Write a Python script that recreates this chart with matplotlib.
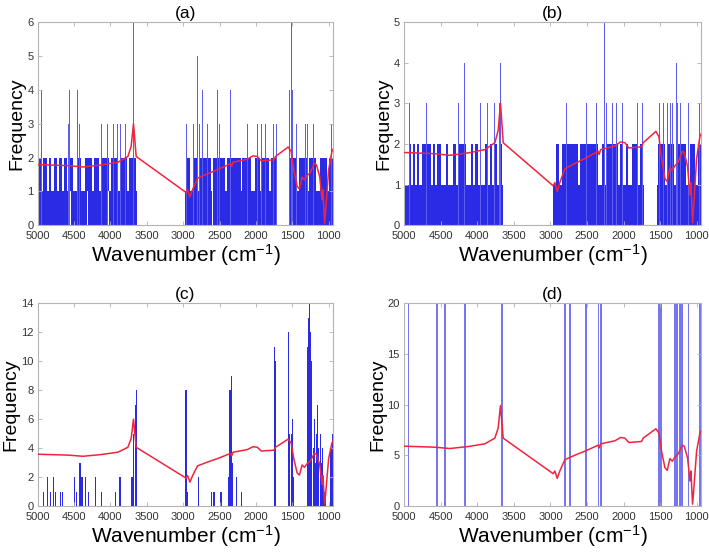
import matplotlib
matplotlib.use("Agg")
import matplotlib.pyplot as plt

plt.rcParams['font.family'] = ['Liberation Sans', 'DejaVu Sans']
plt.rcParams['mathtext.default'] = 'regular'

# scaled spectrum (red curve), base scale as in panel (a)
spec_w = [5000, 4581, 4376, 4125, 3897, 3760, 3715, 3683, 3665, 3646,
          2963, 2940, 2908, 2872, 2803, 2667, 2530, 2348, 2334, 2316,
          2120, 2042, 1983, 1928, 1755, 1733, 1559, 1518, 1482, 1436,
          1404, 1368, 1336, 1300, 1254, 1199, 1172, 1126, 1094, 1081,
          1058, 1040, 1003, 958, 940]
spec_y = [1.79, 1.76, 1.72, 1.78, 1.86, 2.03, 2.33, 3.0, 2.53, 2.03,
          0.97, 1.05, 0.83, 1.05, 1.39, 1.52, 1.64, 1.82, 1.74, 1.86,
          1.95, 2.05, 2.03, 1.90, 1.93, 2.03, 2.31, 2.18, 1.64, 1.15,
          1.07, 1.42, 1.34, 1.46, 1.56, 1.82, 1.79, 1.44, 0.75, 1.05,
          0.06, 0.55, 1.64, 2.18, 2.25]
spec_scale = {'a': 1.0, 'b': 1.0, 'c': 2.0, 'd': 3.3}

# (a) histogram
lvl1_a = [(5000, 4890), (4883, 4766), (4760, 4552), (4546, 4320), (4313, 4028),
          (4022, 3773), (3767, 3628), (2978, 2600), (2594, 1718), (1546, 1080),
          (1074, 942)]
lvl2_a = [(5000, 4954), (4932, 4877), (4845, 4809), (4772, 4736), (4699, 4663),
          (4635, 4590), (4567, 4517), (4462, 4398), (4344, 4253), (4225, 4152),
          (4125, 4025), (3988, 3906), (3870, 3770), (3738, 3692), (3678, 3642),
          (2963, 2904), (2872, 2804), (2781, 2621), (2585, 2430), (2393, 2211),
          (2189, 2075), (2020, 1947), (1915, 1824), (1801, 1719), (1546, 1437),
          (1414, 1300), (1277, 1172), (1118, 1026), (1004, 942)]
spike_a_w = [4982, 4945, 4581, 4558, 4453, 4421, 4170, 4125, 4043, 3956, 3906,
             3861, 3797, 3687, 3678, 2949, 2858, 2803, 2776, 2740, 2667, 2530,
             2507, 2348, 2302, 2120, 1983, 1928, 1865, 1755, 1719, 1536, 1518,
             1500, 1446, 1322, 1290, 1245, 1208, 958]
spike_a_h = [3, 4, 3, 4, 4, 3, 4, 3, 3, 3, 3,
             3, 3, 3, 6, 3, 3, 5, 3, 4, 3, 4,
             3, 4, 3, 3, 3, 3, 3, 3, 3, 4, 6,
             4, 3, 3, 3, 3, 3, 3]

# (b) histogram
lvl1_b = [(5000, 4700), (4694, 4420), (4414, 3645), (2972, 2410), (2404, 1728),
          (1550, 1400), (1394, 935)]
lvl2_b = [(5000, 4982), (4936, 4909), (4872, 4845), (4818, 4790), (4754, 4635),
          (4603, 4581), (4544, 4490), (4421, 4398), (4330, 4285), (4262, 4148),
          (4089, 4057), (4025, 3988), (3966, 3943), (3888, 3861), (3829, 3797),
          (3761, 3724), (3706, 3660), (2918, 2886), (2849, 2621), (2599, 2348),
          (2293, 2257), (2234, 2075), (2052, 2006), (1974, 1938), (1892, 1801),
          (1778, 1733), (1537, 1437), (1391, 1309), (1277, 1154), (1095, 1026),
          (981, 935)]
spike_b_w = [4927, 4699, 4257, 4179, 3961, 3861, 3769, 3701, 3678, 2776, 2503,
             2366, 2266, 2229, 2147, 2092, 2010, 1810, 1737, 1509, 1454, 1400,
             1363, 1327, 1281, 1263, 1227, 1112, 961]
spike_b_h = [3, 3, 3, 4, 3, 3, 3, 3, 4, 3, 3,
             3, 5, 3, 3, 3, 3, 3, 3, 3, 3, 3,
             3, 3, 4, 3, 3, 3, 3]

# (c) histogram
bars_c_w = [5000, 4991, 4982, 4954, 4922, 4886, 4868, 4822, 4777, 4754, 4685,
            4658, 4489, 4466, 4444, 4430, 4421, 4407, 4394, 4385, 4339, 4298,
            4202, 4125, 4102, 4020, 3952, 3929, 3874, 3861, 3715, 3701, 3687,
            3678, 3660, 3646, 3633, 2972, 2958, 2940, 2790, 2607, 2589, 2575,
            2493, 2471, 2380, 2366, 2352, 2339, 2325, 2266, 2247, 2234, 2220,
            2202, 2097, 1755, 1742, 1728, 1550, 1536, 1513, 1496, 1482, 1423,
            1409, 1395, 1368, 1300, 1290, 1281, 1268, 1254, 1236, 1218, 1208,
            1199, 1181, 1172, 1154, 1145, 1135, 1117, 1104, 1085, 1072, 1063,
            1049, 1026, 1012, 999, 985, 976, 967, 958, 949]
bars_c_h = [4, 3, 2, 1, 1, 3, 2, 1, 2, 1, 1,
            1, 2, 1, 1, 3, 3, 3, 2, 2, 2, 1,
            2, 1, 1, 1, 2, 1, 2, 2, 2, 2, 3,
            5, 7, 8, 4, 8, 8, 1, 2, 1, 1, 1,
            1, 1, 2, 8, 8, 9, 3, 2, 2, 3, 3,
            1, 1, 7, 11, 10, 12, 5, 5, 6, 2, 10,
            8, 2, 2, 11, 11, 13, 14, 12, 10, 6, 4,
            6, 3, 5, 7, 4, 5, 5, 3, 4, 2, 1,
            1, 2, 4, 9, 6, 4, 4, 4, 5]

# (d) histogram (all bars exceed the axis limit)
bars_d_w = [4941, 4553, 4439, 4166, 3665, 2799, 2730, 2516, 2343, 2311, 1523,
            1509, 1491, 1295, 1272, 1227, 1204, 1112, 961, 944]
bars_d_h = [25] * len(bars_d_w)

xticks = [5000, 4500, 4000, 3500, 3000, 2500, 2000, 1500, 1000]

fig = plt.figure(figsize=(7.09, 5.52), dpi=100)
pos = {'a': [0.053, 0.592, 0.417, 0.368], 'b': [0.570, 0.592, 0.419, 0.368],
       'c': [0.053, 0.083, 0.417, 0.368], 'd': [0.570, 0.083, 0.419, 0.368]}
ylims = {'a': (6, range(0, 7)), 'b': (5, range(0, 6)),
         'c': (14, range(0, 15, 2)), 'd': (20, range(0, 21, 5))}

blue = '#2b2be6'
thin = '#5c5cf0'


def style(ax, key):
    ymax, yt = ylims[key]
    ax.set_xlim(5000, 940)
    ax.set_ylim(0, ymax)
    ax.set_xticks(xticks)
    ax.set_yticks(list(yt))
    ax.tick_params(direction='in', length=3, width=0.6, colors='#b0b0b0',
                   labelcolor='#333333', labelsize=8, top=True, right=True)
    ax.tick_params(axis='x', pad=4)
    ax.tick_params(axis='y', pad=3)
    for s in ax.spines.values():
        s.set_color('#b4b4b4')
        s.set_linewidth(0.8)
    ax.set_title('(%s)' % key, fontsize=12.5, pad=3)
    ax.set_xlabel('Wavenumber (cm$^{-1}$)', fontsize=15, labelpad=1)
    ax.set_ylabel('Frequency', fontsize=14, labelpad=1)
    ax.plot(spec_w, [v * spec_scale[key] for v in spec_y], color='#f0243c',
            lw=1.1, zorder=5)


def runs(ax, rr, bottom):
    for a, b in rr:
        ax.bar(a, 1, width=b - a, bottom=bottom, align='edge', color=blue,
               linewidth=0)


ax = fig.add_axes(pos['a'])
runs(ax, lvl1_a, 0)
runs(ax, lvl2_a, 1)
ax.bar(spike_a_w, spike_a_h, width=12, color=thin, linewidth=0)
style(ax, 'a')

ax = fig.add_axes(pos['b'])
runs(ax, lvl1_b, 0)
runs(ax, lvl2_b, 1)
ax.bar(spike_b_w, spike_b_h, width=12, color=thin, linewidth=0)
style(ax, 'b')

ax = fig.add_axes(pos['c'])
ax.bar(bars_c_w, bars_c_h, width=10, color=blue, linewidth=0)
style(ax, 'c')

ax = fig.add_axes(pos['d'])
ax.bar(bars_d_w, bars_d_h, width=22, color='#7676f2', linewidth=0)
style(ax, 'd')

fig.savefig('out.png', dpi=100)
